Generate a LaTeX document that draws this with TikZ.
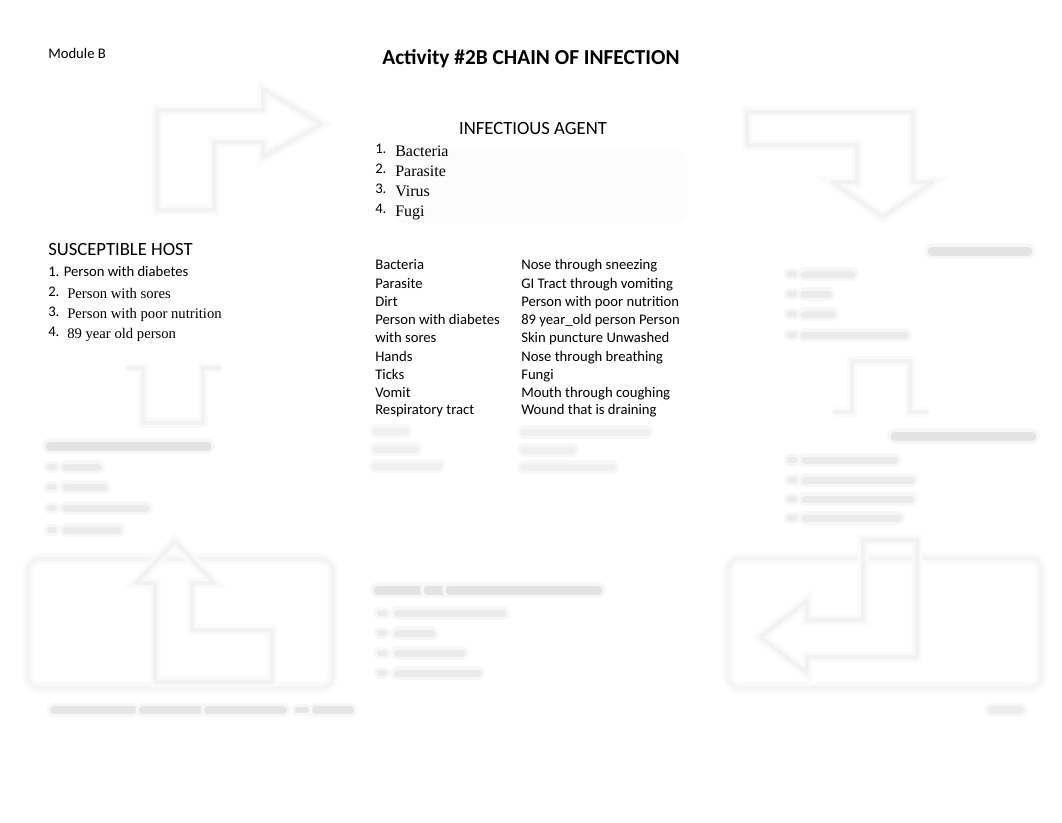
\documentclass[tikz,border=0pt]{standalone}
\usepackage{fontspec}
\setmainfont{Carlito}
\newfontfamily\tms{Liberation Serif}
\newcommand\myblob[5][18]{%
  \draw[line cap=round, line width=#5*0.75pt+5pt, draw=gray!6] (#2,#4)--(#3,#4);
  \draw[line cap=round, line width=#5*0.75pt, draw=gray!#1] (#2,#4)--(#3,#4);}
\begin{document}
\begin{tikzpicture}[x=0.75pt,y=-0.75pt,
  lbl/.style={inner sep=0pt, anchor=base west, font=\fontsize{11}{13}\selectfont},
  num/.style={inner sep=0pt, anchor=base west, font=\fontsize{11}{13}\selectfont},
  ser/.style={inner sep=0pt, anchor=base west, font=\tms\fontsize{12}{14}\selectfont},
  sers/.style={inner sep=0pt, anchor=base west, font=\tms\fontsize{11}{13}\selectfont},
  head/.style={inner sep=0pt, anchor=base west, font=\fontsize{14}{16}\selectfont},
  garrow/.style={draw=gray!10, line width=3pt, line join=round, line cap=round,
     preaction={draw=gray!4, line width=8pt}},
  gbox/.style={draw=gray!9, line width=3pt, rounded corners=9pt,
     preaction={draw=gray!4, line width=8pt}}]
\useasboundingbox (0,0) rectangle (1062,822);

% faint shadow behind agent list
\fill[gray!2, rounded corners=12pt] (392,148) rectangle (688,224);

% ---- texts ----
\node[num] (module) at (48,58) {Module B};
\node[inner sep=0pt, anchor=base, font=\bfseries\fontsize{16}{18}\selectfont] (title) at (531,64) {Activity \#2B CHAIN OF INFECTION};

\node[inner sep=0pt, anchor=base, font=\fontsize{14}{16}\selectfont] (agent) at (533,134) {INFECTIOUS AGENT};
\node[num] (a1n) at (375,153.5) {1.};
\node[ser] (a1) at (395,156) {Bacteria};
\node[num] (a2n) at (375,173.5) {2.};
\node[ser] (a2) at (395,176) {Parasite};
\node[num] (a3n) at (375,193.5) {3.};
\node[ser] (a3) at (395,196) {Virus};
\node[num] (a4n) at (375,213.5) {4.};
\node[ser] (a4) at (395,216) {Fugi};

\node[head] (host) at (48,255) {SUSCEPTIBLE HOST};
\node[lbl] (h1) at (48,276.5) {1. Person with diabetes};
\node[num] (h2n) at (48,296) {2.};
\node[sers] (h2) at (67,298.5) {Person with sores};
\node[num] (h3n) at (48,316) {3.};
\node[sers] (h3) at (67,318.5) {Person with poor nutrition};
\node[num] (h4n) at (48,336) {4.};
\node[sers] (h4) at (67,338.5) {89 year old person};

% table
\node[lbl] (c11) at (375,269.5) {Bacteria};
\node[lbl] (c12) at (375,288) {Parasite};
\node[lbl] (c13) at (375,306) {Dirt};
\node[lbl] (c14) at (375,324.5) {Person with diabetes};
\node[lbl] (c15) at (375,342.5) {with sores};
\node[lbl] (c16) at (375,361) {Hands};
\node[lbl] (c17) at (375,379) {Ticks};
\node[lbl] (c18) at (375,397) {Vomit};
\node[lbl] (c19) at (375,414.5) {Respiratory tract};
\node[lbl] (c21) at (521,269.5) {Nose through sneezing};
\node[lbl] (c22) at (521,288) {GI Tract through vomiting};
\node[lbl] (c23) at (521,306) {Person with poor nutrition};
\node[lbl] (c24) at (521,324.5) {89 year\_old person Person};
\node[lbl] (c25) at (521,342.5) {Skin puncture Unwashed};
\node[lbl] (c26) at (521,361) {Nose through breathing};
\node[lbl] (c27) at (521,379) {Fungi};
\node[lbl] (c28) at (521,397) {Mouth through coughing};
\node[lbl] (c29) at (521,414.5) {Wound that is draining};

% ---- blurred table rows ----
\myblob[12]{376}{405}{431}{7}
\myblob[12]{376}{415}{449}{7}
\myblob[12]{376}{438}{466}{7}
\myblob[12]{524}{646}{432}{7}
\myblob[12]{524}{572}{450}{7}
\myblob[12]{524}{612}{467}{7}

% ---- top-left arrow ----
\draw[garrow] (157,110) -- (263,110) -- (263,89) -- (322,124) -- (263,157) -- (263,142)
  -- (214,142) -- (214,210) -- (157,210) -- cycle;

% ---- top-right arrow ----
\draw[garrow] (747,112) -- (913,112) -- (913,182) -- (933,182) -- (883,217) -- (832,182)
  -- (857,182) -- (857,145) -- (747,145) -- cycle;

% ---- reservoir (right) ----
\myblob[22]{932}{1028}{251}{9}
\myblob[16]{790}{794}{274}{6}
\myblob[16]{804}{852}{274}{7}
\myblob[16]{790}{794}{294}{6}
\myblob[16]{804}{828}{294}{7}
\myblob[16]{790}{794}{314}{6}
\myblob[16]{804}{832}{314}{7}
\myblob[16]{790}{794}{335}{6}
\myblob[16]{804}{905}{335}{7}

% small right arrow (down)
\draw[garrow] (834,412) -- (852,412) -- (852,361) -- (910,361) -- (910,412) -- (927,412);

% portal of exit (right)
\myblob[22]{895}{1032}{436}{9}
\myblob[16]{790}{794}{460}{6}
\myblob[16]{805}{895}{460}{7}
\myblob[16]{790}{794}{480}{6}
\myblob[16]{805}{911}{480}{7}
\myblob[16]{790}{794}{499}{6}
\myblob[16]{805}{911}{499}{7}
\myblob[16]{790}{794}{518}{6}
\myblob[16]{805}{898}{518}{7}

% small left arrow (up)
\draw[garrow] (127,368) -- (143,368) -- (143,423) -- (203,423) -- (203,368) -- (220,368);

% portal of entry (left)
\myblob[22]{50}{207}{446}{9}
\myblob[16]{50}{54}{467}{6}
\myblob[16]{66}{98}{467}{7}
\myblob[16]{50}{54}{487}{6}
\myblob[16]{66}{104}{487}{7}
\myblob[16]{50}{54}{508}{6}
\myblob[16]{66}{146}{508}{7}
\myblob[16]{50}{54}{530}{6}
\myblob[16]{66}{118}{530}{7}

% ---- bottom-left box and arrow ----
\draw[gbox] (28,559) rectangle (333,688);
\draw[garrow] (175,541) -- (214,583) -- (192,583) -- (192,630) -- (272,630) -- (272,682)
  -- (155,682) -- (155,583) -- (136,583) -- cycle;
\myblob[20]{54}{133}{710}{8}
\myblob[20]{143}{200}{710}{8}
\myblob[20]{208}{283}{710}{8}
\myblob[20]{298}{306}{710}{6}
\myblob[20]{316}{350}{710}{8}

% ---- mode of transmission ----
\myblob[22]{378}{420}{590}{9}
\myblob[22]{428}{442}{590}{9}
\myblob[22]{450}{598}{590}{9}
\myblob[16]{380}{384}{613}{6}
\myblob[16]{397}{503}{613}{7}
\myblob[16]{380}{384}{633}{6}
\myblob[16]{397}{432}{633}{7}
\myblob[16]{380}{384}{653}{6}
\myblob[16]{397}{462}{653}{7}
\myblob[16]{380}{384}{673}{6}
\myblob[16]{397}{478}{673}{7}

% ---- bottom-right box and arrow ----
\draw[gbox] (728,558) rectangle (1041,688);
\draw[garrow] (863,540) -- (917,540) -- (917,657) -- (807,657) -- (807,673) -- (760,637)
  -- (807,601) -- (807,620) -- (863,620) -- cycle;
\myblob[14]{992}{1020}{710}{8}
\end{tikzpicture}
\end{document}
